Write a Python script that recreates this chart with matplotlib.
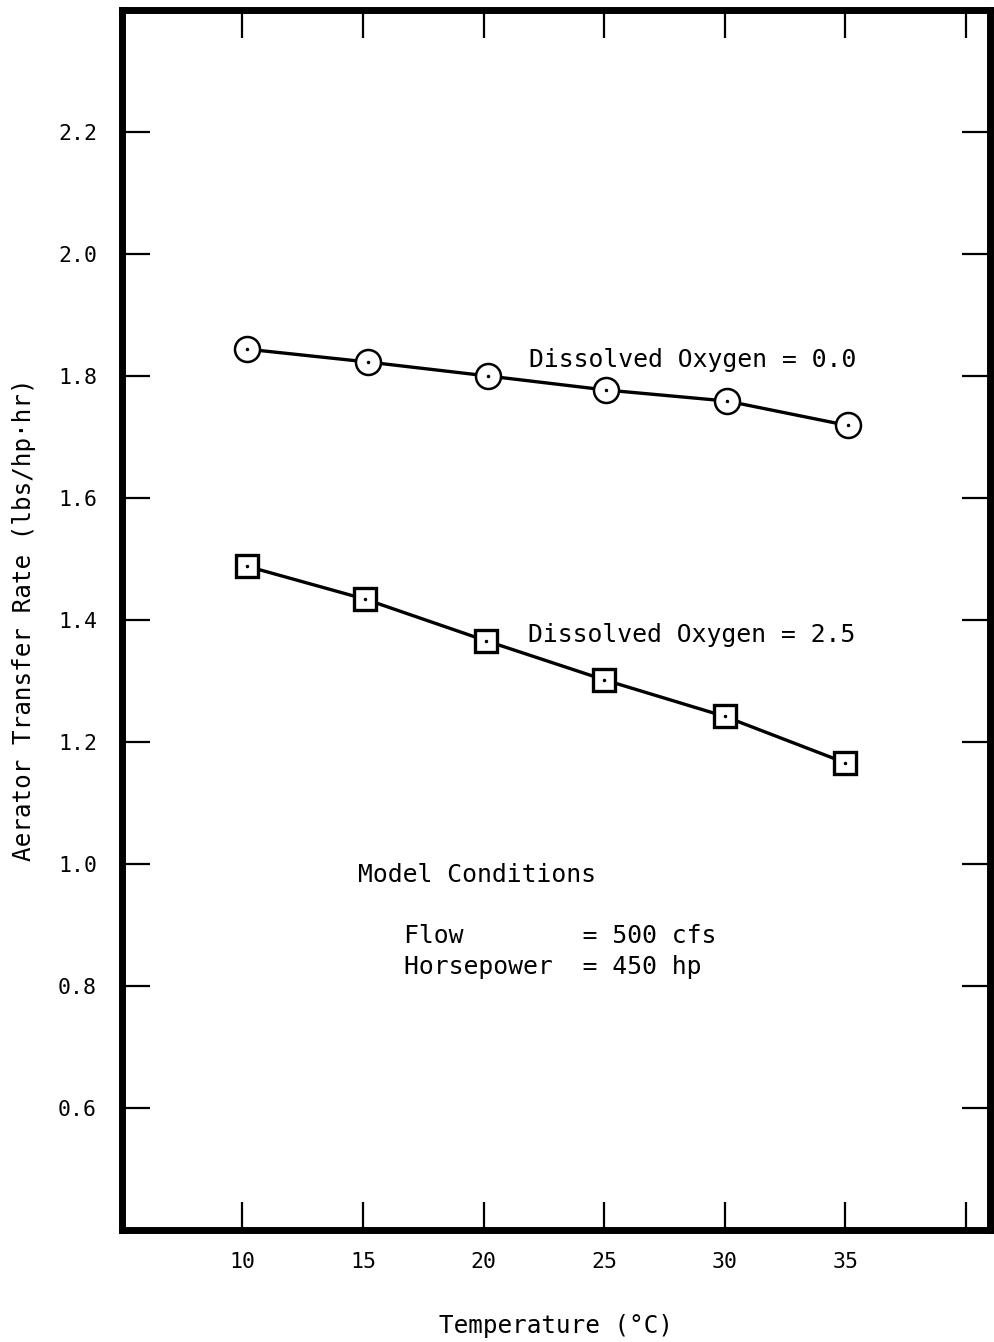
import numpy as np
import matplotlib
matplotlib.use("Agg")
import matplotlib.pyplot as plt

# data
temp_do0 = [10.2, 15.2, 20.2, 25.1, 30.1, 35.1]
rate_do0 = [1.844, 1.823, 1.800, 1.777, 1.759, 1.719]
temp_do25 = [10.2, 15.1, 20.1, 25.0, 30.0, 35.0]
rate_do25 = [1.488, 1.434, 1.366, 1.302, 1.242, 1.166]

xticks = [10, 15, 20, 25, 30, 35, 40]
xticklabels = ["10", "15", "20", "25", "30", "35", ""]
yticks = [0.6, 0.8, 1.0, 1.2, 1.4, 1.6, 1.8, 2.0, 2.2]
yticklabels = ["0.6", "0.8", "1.0", "1.2", "1.4", "1.6", "1.8", "2.0", "2.2"]

mono = "DejaVu Sans Mono"
plt.rcParams['font.family'] = mono

fig = plt.figure(figsize=(9.94, 13.42), dpi=100)
ax = fig.add_axes([0.1227, 0.0835, 0.873, 0.909])

ax.plot(temp_do0, rate_do0, color='black', lw=2.4, marker='o', ms=18,
        mfc='white', mec='black', mew=1.8, zorder=3)
ax.plot(temp_do0, rate_do0, ls='none', marker='.', ms=3, color='black', zorder=4)
ax.plot(temp_do25, rate_do25, color='black', lw=2.4, marker='s', ms=16.5,
        mfc='white', mec='black', mew=2.4, zorder=3)
ax.plot(temp_do25, rate_do25, ls='none', marker='.', ms=3, color='black', zorder=4)

ax.set_xlim(5, 41)
ax.set_ylim(0.4, 2.4)
ax.set_xticks(xticks)
ax.set_xticklabels(xticklabels)
ax.set_yticks(yticks)
ax.set_yticklabels(yticklabels)
ax.tick_params(direction='in', length=20, width=1.6, top=True, right=True,
               labelsize=15.5, color='black')
ax.tick_params(axis='y', pad=18)
ax.tick_params(axis='x', pad=16)
for s in ax.spines.values():
    s.set_linewidth(5)

ax.set_xlabel("Temperature (°C)", fontsize=17.5, labelpad=30)
ax.set_ylabel("Aerator Transfer Rate (lbs/hp·hr)", fontsize=17.5, labelpad=16)

ax.text(21.9, 1.827, "Dissolved Oxygen = 0.0", fontsize=17.8, va='center', ha='left')
ax.text(21.85, 1.375, "Dissolved Oxygen = 2.5", fontsize=17.8, va='center', ha='left')
ax.text(14.8, 0.982, "Model Conditions", fontsize=17.8, va='center', ha='left')
ax.text(16.7, 0.882, "Flow        = 500 cfs", fontsize=17.8, va='center', ha='left')
ax.text(16.7, 0.831, "Horsepower  = 450 hp", fontsize=17.8, va='center', ha='left')

fig.savefig("out.png", dpi=100)
